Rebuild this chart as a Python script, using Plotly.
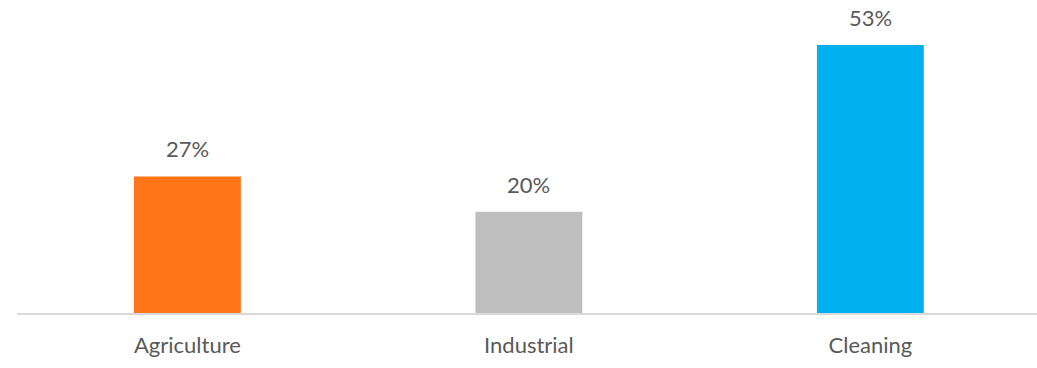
import plotly.graph_objects as go

categories = ["Agriculture", "Industrial", "Cleaning"]
shares = [27, 20, 53]
bar_colors = ["#FF7518", "#BFBFBF", "#00B0F0"]
value_labels = [f"{v}%" for v in shares]

fig = go.Figure(
    go.Bar(
        x=categories,
        y=shares,
        marker=dict(color=bar_colors, line=dict(width=0)),
        width=0.313,
        hoverinfo="skip",
    )
)

for cat, val, lab in zip(categories, shares, value_labels):
    fig.add_annotation(
        x=cat, y=val, text=lab, showarrow=False,
        yanchor="bottom", yshift=12,
        font=dict(family="Lato", size=22, color="#595959"),
    )

fig.update_layout(
    width=1037, height=368,
    margin=dict(l=17, r=0, t=0, b=55),
    paper_bgcolor="white", plot_bgcolor="white",
    showlegend=False,
    xaxis=dict(
        range=[-0.499, 2.488],
        showline=True, linecolor="#D9D9D9", linewidth=2,
        showgrid=False, zeroline=False, ticks="",
        ticklabelstandoff=12,
        tickfont=dict(family="Lato", size=22, color="#595959"),
    ),
    yaxis=dict(
        range=[0, 61.9], visible=False, showgrid=False, zeroline=False,
    ),
)

fig.write_html("out.html")
